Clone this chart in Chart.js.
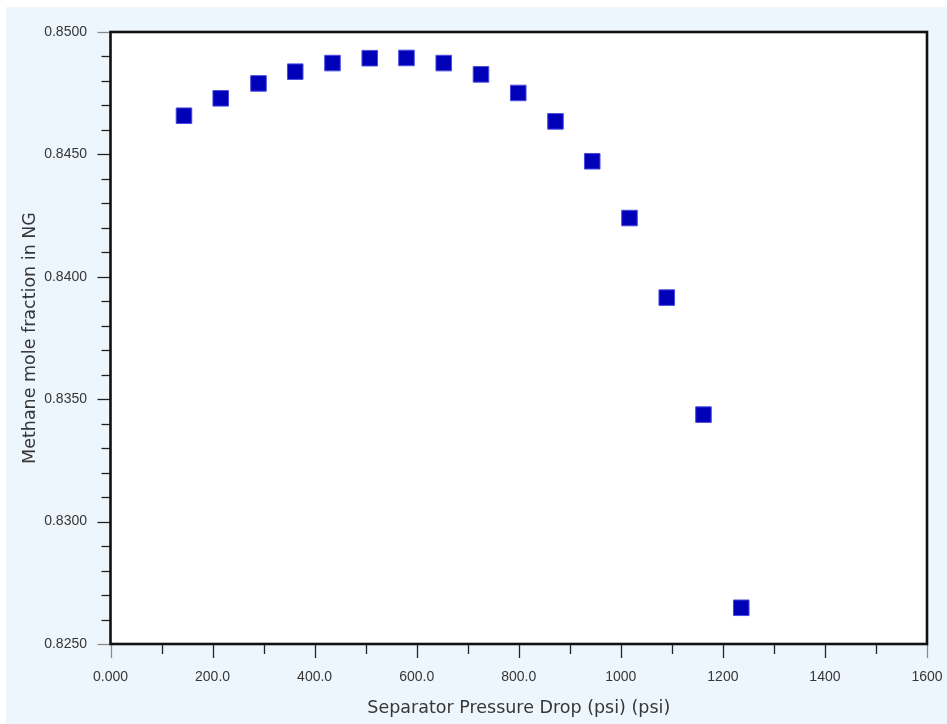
<!DOCTYPE html>
<html lang="en">
<head>
<meta charset="UTF-8">
<title>Methane mole fraction in NG</title>
<script src="https://cdn.jsdelivr.net/npm/chart.js"></script>
<style>
    body { margin: 0; background: #ffffff; }
    .painel {
        position: absolute;
        left: 6px;
        top: 7px;
        width: 941px;
        height: 717px;
        background: #eef6fd;
    }
</style>
</head>
<body>

<div class="painel">
    <canvas id="myCanvas" width="941" height="717"></canvas>
</div>

<script>
    // pressure drop (psi) and methane mole fraction
    const pressureDrop = [144, 216, 290, 362, 435, 508, 580, 653, 726, 799, 872, 944, 1017, 1090, 1162, 1236];
    const methaneFrac = [0.84658, 0.84729, 0.84790, 0.84838, 0.84873, 0.84893, 0.84894, 0.84873,
                         0.84827, 0.84751, 0.84635, 0.84472, 0.84240, 0.83915, 0.83437, 0.82648];

    const xTitle = "Separator Pressure Drop (psi) (psi)";
    const yTitle = "Methane mole fraction in NG";

    const textColor = "#363636";
    const fonteTicks = "'Liberation Sans', Arial, sans-serif";
    const fonteTitulo = "'DejaVu Sans', sans-serif";

    // frame around the plot + major/minor tick marks
    const moldura = {
        id: "moldura",
        beforeDraw(chart) {
            const a = chart.chartArea;
            const ctx = chart.ctx;
            ctx.save();
            ctx.fillStyle = "#ffffff";
            ctx.fillRect(a.left, a.top, a.right - a.left, a.bottom - a.top);
            ctx.restore();
        },
        afterDraw(chart) {
            const a = chart.chartArea;
            const ctx = chart.ctx;
            const sx = chart.scales.x;
            const sy = chart.scales.y;
            ctx.save();
            ctx.lineWidth = 1.3;

            sx.ticks.forEach(function (t) {
                const px = Math.round(sx.getPixelForValue(t.value)) + 0.5;
                const major = Math.round(t.value) % 200 === 0;
                const ponta = t.value === sx.min || t.value === sx.max;
                ctx.strokeStyle = ponta ? "#8a8a8a" : "#222222";
                ctx.beginPath();
                ctx.moveTo(px, a.bottom);
                ctx.lineTo(px, a.bottom + (major ? 14 : 10));
                ctx.stroke();
            });

            sy.ticks.forEach(function (t) {
                const py = Math.round(sy.getPixelForValue(t.value)) + 0.5;
                const major = Math.round(t.value * 1000) % 5 === 0;
                const ponta = Math.abs(t.value - sy.min) < 1e-7 || Math.abs(t.value - sy.max) < 1e-7;
                ctx.strokeStyle = ponta ? "#8a8a8a" : "#222222";
                ctx.beginPath();
                ctx.moveTo(a.left, py);
                ctx.lineTo(a.left - (major ? 13 : 9), py);
                ctx.stroke();
            });

            ctx.strokeStyle = "#111111";
            ctx.lineWidth = 2.6;
            ctx.strokeRect(a.left, a.top, a.right - a.left, a.bottom - a.top);
            ctx.restore();
        }
    };

    const pontos = pressureDrop.map(function (x, i) {
        return { x: x, y: methaneFrac[i] };
    });

    // invisible chart.js tick marks, only used to push the labels away from the frame
    const gradeInvisivel = (len) => ({
        display: true,
        drawOnChartArea: false,
        drawTicks: true,
        tickLength: len,
        tickColor: "rgba(0,0,0,0)",
    });

    const config = {
        type: "scatter",
        data: {
            datasets: [
                {
                    label: yTitle,
                    data: pontos,
                    pointStyle: "rect",
                    pointRadius: 11,
                    pointHoverRadius: 11,
                    backgroundColor: "#0000b8",
                    borderColor: "#4a4ae0",
                    borderWidth: 1,
                },
            ],
        },
        options: {
            responsive: false,
            animation: false,
            events: [],
            layout: {
                padding: { left: 0, top: 25, right: 20, bottom: 0 },
            },
            plugins: {
                legend: { display: false },
                tooltip: { enabled: false },
            },
            scales: {
                x: {
                    type: "linear",
                    position: "bottom",
                    min: 0,
                    max: 1600,
                    grid: gradeInvisivel(21),
                    border: { display: false },
                    ticks: {
                        stepSize: 100,
                        autoSkip: false,
                        maxRotation: 0,
                        padding: 3.6,
                        color: textColor,
                        font: { family: fonteTicks, size: 14 },
                        callback: function (v) {
                            return Math.round(v) % 200 === 0 ? Number(v).toPrecision(4) : "";
                        },
                    },
                    title: {
                        display: true,
                        text: xTitle,
                        color: textColor,
                        font: { family: fonteTitulo, size: 17.5 },
                        padding: { top: 0, bottom: 5 },
                    },
                    afterFit: function (s) { s.height = 80; },
                },
                y: {
                    type: "linear",
                    min: 0.825,
                    max: 0.85,
                    grid: gradeInvisivel(20),
                    border: { display: false },
                    ticks: {
                        stepSize: 0.001,
                        autoSkip: false,
                        padding: 3.5,
                        color: textColor,
                        font: { family: fonteTicks, size: 14 },
                        callback: function (v) {
                            return Math.round(v * 1000) % 5 === 0 ? Number(v).toFixed(4) : "";
                        },
                    },
                    title: {
                        display: true,
                        text: yTitle,
                        color: textColor,
                        font: { family: fonteTitulo, size: 17.5 },
                        padding: { top: 13.5, bottom: 0 },
                    },
                    afterFit: function (s) { s.width = 104.5; },
                },
            },
        },
        plugins: [moldura],
    };

    const myChart = new Chart(document.getElementById("myCanvas"), config);
</script>
</body>
</html>
